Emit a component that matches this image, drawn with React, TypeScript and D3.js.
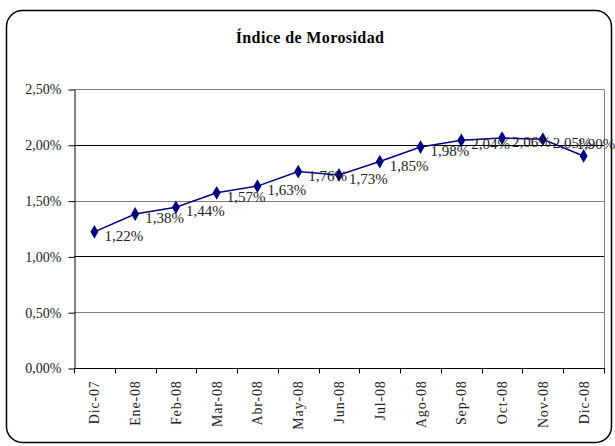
import React, { useEffect, useRef } from 'react';
import * as d3 from 'd3';

const months = ['Dic-07', 'Ene-08', 'Feb-08', 'Mar-08', 'Abr-08', 'May-08', 'Jun-08', 'Jul-08', 'Ago-08', 'Sep-08', 'Oct-08', 'Nov-08', 'Dic-08'];
const rates = [1.22, 1.38, 1.44, 1.57, 1.63, 1.76, 1.73, 1.85, 1.98, 2.04, 2.06, 2.05, 1.9];
const yTicks = [0, 0.5, 1, 1.5, 2, 2.5];

const fmt = (v: number) => v.toFixed(2).replace('.', ',') + '%';
const FONT = 'Liberation Serif, Times New Roman, serif';

export default function App() {
  const ref = useRef<SVGSVGElement>(null);

  useEffect(() => {
    const svg = d3.select(ref.current);
    svg.selectAll('*').remove();

    const left = 74, right = 604, top = 89, bottom = 368;

    const x = d3.scaleBand().domain(months).range([left, right]);
    const y = d3.scaleLinear().domain([0, 2.5]).range([bottom, top]);

    // outer frame
    svg.append('rect')
      .attr('x', 6.5).attr('y', 10.5)
      .attr('width', 605).attr('height', 432)
      .attr('rx', 16)
      .attr('fill', 'white')
      .attr('stroke', 'black')
      .attr('stroke-width', 1.5);

    svg.append('text')
      .attr('x', 310).attr('y', 43)
      .attr('text-anchor', 'middle')
      .style('font-family', FONT)
      .attr('font-weight', 'bold')
      .attr('font-size', 16)
      .attr('letter-spacing', 0.4)
      .text('Índice de Morosidad');

    // gridlines
    svg.append('g').selectAll('line')
      .data(yTicks.filter(d => d > 0))
      .enter().append('line')
      .attr('x1', left).attr('x2', right)
      .attr('y1', d => Math.round(y(d)) + 0.5)
      .attr('y2', d => Math.round(y(d)) + 0.5)
      .attr('stroke', d => (d === 1 || d === 2 ? '#000' : '#808080'))
      .attr('stroke-width', 1);

    // right border of plot
    svg.append('line')
      .attr('x1', right + 0.5).attr('x2', right + 0.5)
      .attr('y1', Math.round(top) + 0.5).attr('y2', bottom)
      .attr('stroke', '#808080');

    // y axis
    const yAxis = svg.append('g')
      .attr('transform', `translate(${left + 0.5},0.5)`)
      .call(d3.axisLeft(y).tickValues(yTicks).tickSize(6).tickSizeOuter(0).tickFormat(d => fmt(d as number)));
    yAxis.select('.domain').attr('stroke', '#000');
    yAxis.selectAll('text')
      .style('font-family', FONT)
      .attr('font-size', 14)
      .attr('fill', '#222')
      .attr('x', -13);

    // x axis
    const xAxis = svg.append('g')
      .attr('transform', `translate(0,${bottom + 0.5})`);
    xAxis.append('line')
      .attr('x1', left).attr('x2', right + 1)
      .attr('stroke', '#000');
    xAxis.selectAll('line.tick')
      .data(d3.range(months.length + 1))
      .enter().append('line')
      .attr('class', 'tick')
      .attr('x1', i => Math.round(left + i * x.step()) + 0.5)
      .attr('x2', i => Math.round(left + i * x.step()) + 0.5)
      .attr('y1', 0).attr('y2', 5)
      .attr('stroke', '#000');
    xAxis.selectAll('text')
      .data(months)
      .enter().append('text')
      .attr('transform', d => `translate(${(x(d) as number) + x.bandwidth() / 2 + 5},12) rotate(-90)`)
      .attr('text-anchor', 'end')
      .style('font-family', FONT)
      .attr('font-size', 14)
      .attr('letter-spacing', 0.8)
      .attr('fill', '#222')
      .text(d => d);

    const cx = (i: number) => (x(months[i]) as number) + x.bandwidth() / 2;

    const line = d3.line<number>()
      .x((_, i) => cx(i))
      .y(d => y(d));

    svg.append('path')
      .datum(rates)
      .attr('d', line)
      .attr('fill', 'none')
      .attr('stroke', '#000080')
      .attr('stroke-width', 1.5);

    svg.append('g').selectAll('path')
      .data(rates)
      .enter().append('path')
      .attr('d', d3.symbol().type(d3.symbolDiamond).size(55)())
      .attr('transform', (d, i) => `translate(${cx(i)},${y(d)})`)
      .attr('fill', '#000080');

    const last = rates.length - 1;
    svg.append('g').selectAll('text')
      .data(rates)
      .enter().append('text')
      .attr('x', (d, i) => (i === last ? cx(i) - 7 : cx(i) + 10))
      .attr('y', (d, i) => (i === last ? y(d) - 7 : y(d) + 9))
      .style('font-family', FONT)
      .attr('font-size', 15)
      .attr('fill', '#222')
      .text(d => fmt(d));
  }, []);

  return (
    <svg
      ref={ref}
      width={615}
      height={446}
      style={{ position: 'absolute', left: 0, top: 0, background: 'white' }}
    />
  );
}
